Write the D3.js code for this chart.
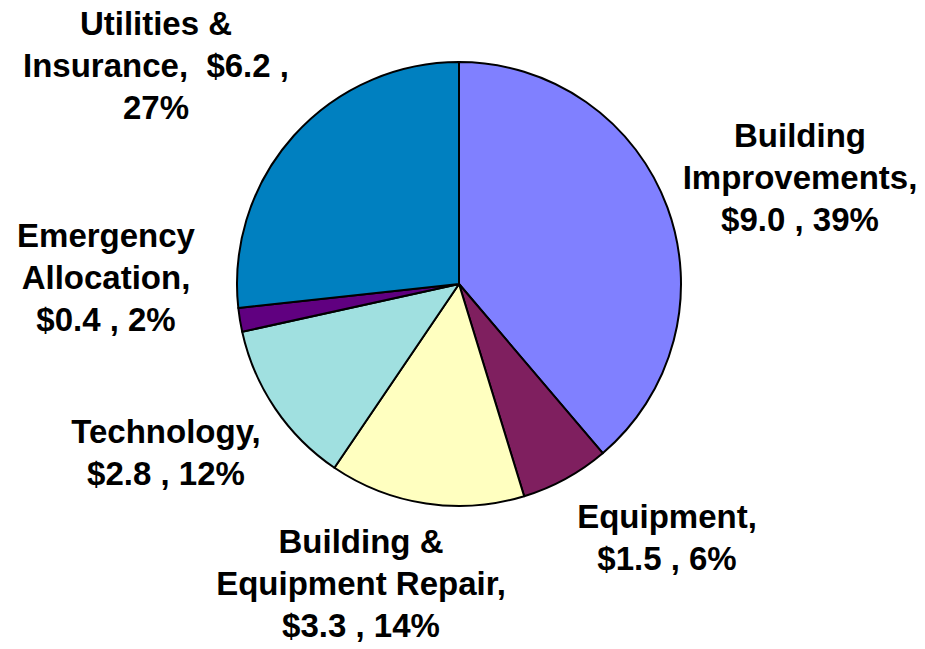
<!DOCTYPE html>
<html>
<head>
<meta charset="utf-8">
<script src="https://cdn.jsdelivr.net/npm/d3@7"></script>
<style>
  body { margin: 0; background: #fff; }
  text { font-family: "Liberation Sans", Arial, sans-serif; font-weight: bold; font-size: 33px; fill: #000; }
</style>
</head>
<body>
<div id="chart"></div>
<script>
// Budget categories ($ millions) - clockwise from 12 o'clock
var categories = ["Building Improvements", "Equipment", "Building & Equipment Repair",
                  "Technology", "Emergency Allocation", "Utilities & Insurance"];
var values = [9.0, 1.5, 3.3, 2.8, 0.4, 6.2];
var percents = ["39%", "6%", "14%", "12%", "2%", "27%"];
var colors = ["#8080ff", "#7f1f5f", "#ffffc0", "#a0e0e0", "#600080", "#0080c0"];

// label text lines for each slice
var labelLines = [
  ["Building", "Improvements,", "$9.0 , 39%"],
  ["Equipment,", "$1.5 , 6%"],
  ["Building &", "Equipment Repair,", "$3.3 , 14%"],
  ["Technology,", "$2.8 , 12%"],
  ["Emergency", "Allocation,", "$0.4 , 2%"],
  ["Utilities &", "Insurance,  $6.2 ,", "27%"]
];
// label anchor (center x, first baseline y)
var labelPos = [[800, 147], [667, 528], [361, 553], [166, 443], [106, 247], [156, 35]];

var width = 925, height = 649;
var cx = 459, cy = 284, radius = 222;
var lineGap = 42;

var data = categories.map(function(c, i) {
  return {name: c, value: values[i], pct: percents[i], color: colors[i], lines: labelLines[i], pos: labelPos[i]};
});

var svg = d3.select("#chart").append("svg")
    .attr("width", width)
    .attr("height", height);

var pie = d3.pie()
    .sort(null)
    .value(function(d) { return d.value; });

var arc = d3.arc()
    .innerRadius(0)
    .outerRadius(radius);

var g = svg.append("g")
    .attr("transform", "translate(" + cx + "," + cy + ")");

g.selectAll(".slice")
    .data(pie(data))
    .enter().append("path")
    .attr("class", "slice")
    .attr("d", arc)
    .attr("fill", function(d) { return d.data.color; })
    .attr("stroke", "#000")
    .attr("stroke-width", 2)
    .attr("stroke-linejoin", "round");

// labels
var labels = svg.selectAll(".label")
    .data(data)
    .enter().append("text")
    .attr("class", "label")
    .attr("text-anchor", "middle");

labels.selectAll("tspan")
    .data(function(d) {
      return d.lines.map(function(l) { return {text: l, x: d.pos[0], y: d.pos[1]}; });
    })
    .enter().append("tspan")
    .attr("x", function(d) { return d.x; })
    .attr("y", function(d, i) { return d.y + i * lineGap; })
    .style("white-space", "pre")
    .text(function(d) { return d.text; });
</script>
</body>
</html>
